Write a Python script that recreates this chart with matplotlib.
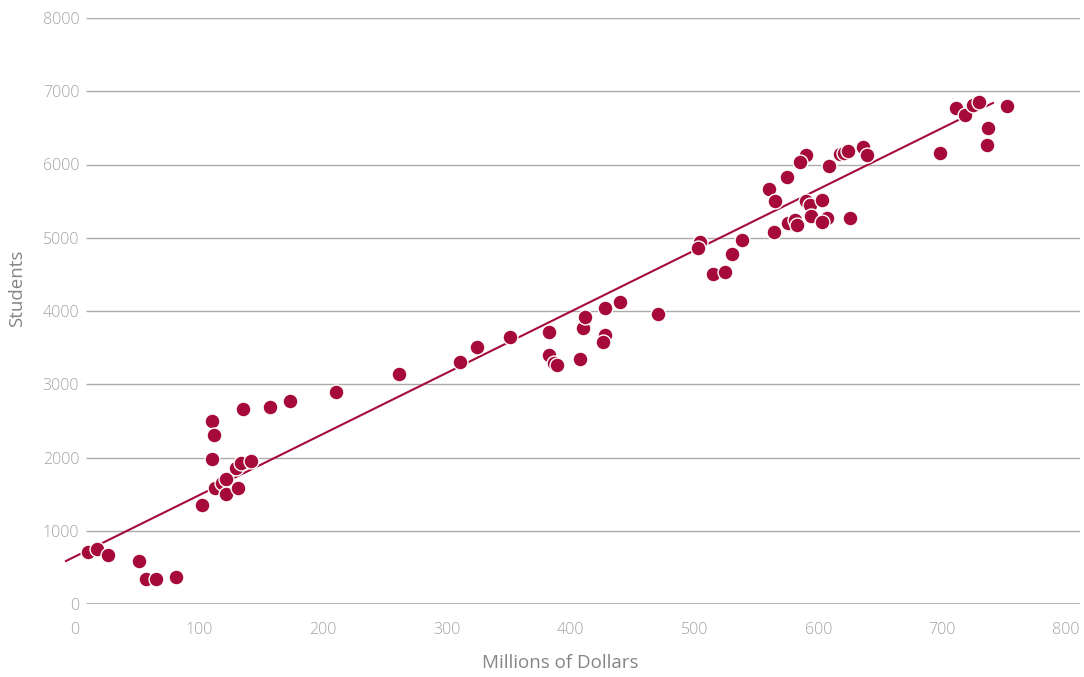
import matplotlib
matplotlib.use("Agg")
import matplotlib.pyplot as plt

# Data (x: Millions of Dollars, y: Students)
dollars = [10.5, 17.8, 26.6, 51.7, 57.3, 65.4, 81.5, 102.5, 110.6, 112.2, 110.6, 113.0,
           118.7, 121.9, 121.9, 130.0, 134.0, 131.6, 142.0, 135.6, 157.4, 173.6, 210.7,
           261.6, 310.8, 324.5, 351.2, 382.7, 382.7, 386.7, 389.0, 407.7, 410.0, 411.8,
           427.9, 426.0, 428.0, 440.0, 470.6,
           504.6, 503.0, 515.0, 524.7, 530.4, 538.5, 560.3, 565.0, 574.8, 564.3, 575.6,
           581.0, 583.0, 590.0, 585.3, 590.0, 593.0, 594.0, 603.0, 607.0, 603.0, 625.6,
           608.7, 617.6, 620.8, 624.0, 636.0, 639.0,
           698.3, 711.0, 718.5, 725.0, 729.8, 752.4, 737.0, 736.2]
students = [710, 751, 669, 587, 341, 341, 369, 1352, 2498, 2307, 1980, 1584,
            1652, 1706, 1502, 1857, 1925, 1584, 1952, 2662, 2689, 2771, 2894,
            3140, 3304, 3508, 3645, 3713, 3399, 3290, 3263, 3345, 3768, 3918,
            3672, 3577, 4041, 4123, 3959,
            4942, 4860, 4505, 4532, 4778, 4969, 5665, 5502, 5829, 5078, 5201,
            5242, 5174, 6130, 6034, 5502, 5447, 5297, 5515, 5270, 5215, 5270,
            5979, 6143, 6157, 6184, 6239, 6130,
            6157, 6771, 6676, 6812, 6853, 6799, 6498, 6266]

# Trend line endpoints
trend_x = [-7.3, 741.0]
trend_y = [587, 6840]

x_ticks = [0, 100, 200, 300, 400, 500, 600, 700, 800]
y_ticks = [0, 1000, 2000, 3000, 4000, 5000, 6000, 7000, 8000]

RED = "#A50A3A"
GRID = "#ABABAB"
TEXT = "#A3A3A3"
LABEL = "#858585"
plt.rcParams['font.family'] = ['Open Sans', 'DejaVu Sans']

fig = plt.figure(figsize=(10.84, 6.77), dpi=100)
ax = fig.add_axes([75 / 1084, 73 / 677, (1080 - 75) / 1084, (604 - 18) / 677])

x0 = (86 - 75) / 1.2387
x1 = (1080 - 75) / 1.2387
ax.set_xlim(0, x1)
ax.set_ylim(0, 8000)

for yv in y_ticks:
    ax.hlines(yv, x0, x1, color=GRID, lw=2.0 if yv == 0 else 1.0, zorder=1)

ax.plot(trend_x, trend_y, color=RED, lw=1.5, zorder=2, clip_on=False)
ax.scatter(dollars, students, s=115, color=RED, edgecolor="white", linewidth=1.0,
           zorder=3, clip_on=False)

for s in ax.spines.values():
    s.set_visible(False)
ax.set_xticks(x_ticks)
ax.set_yticks(y_ticks)
ax.set_xticklabels([str(v) for v in x_ticks], fontweight='light')
ax.set_yticklabels([str(v) for v in y_ticks], fontweight='light')
ax.tick_params(axis='both', length=0, labelsize=11.5, labelcolor=TEXT)
ax.tick_params(axis='x', pad=13)
ax.tick_params(axis='y', pad=-3)

ax.set_xlabel("Millions of Dollars", fontsize=13.5, color=LABEL)
ax.xaxis.set_label_coords((560 - 75) / (1080 - 75), -(663 - 604) / (604 - 18))
ax.xaxis.label.set_va('center')
ax.set_ylabel("Students", fontsize=13.5, color=LABEL)
ax.yaxis.set_label_coords(-(75 - 17) / (1080 - 75), (604 - 288) / (604 - 18))
ax.yaxis.label.set_va('center')

fig.savefig("out.png", dpi=100)
